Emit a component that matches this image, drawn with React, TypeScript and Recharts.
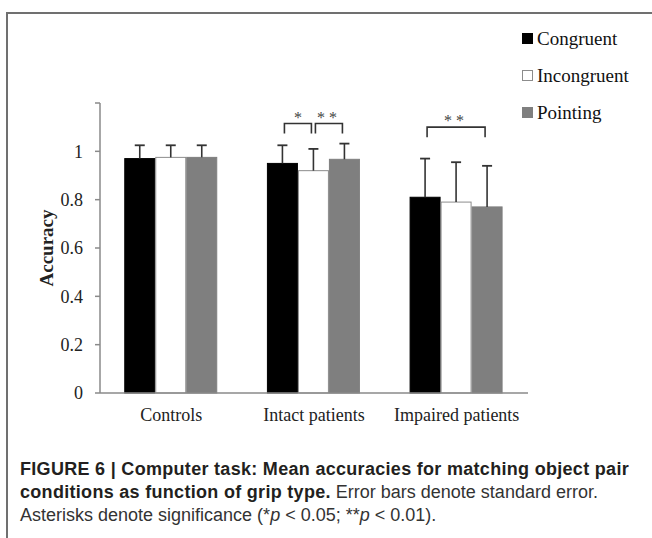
import React from 'react';
import { BarChart, Bar, XAxis, YAxis, Legend } from 'recharts';

// the figure fills the page edge to edge
if (typeof document !== 'undefined') {
  document.body.style.margin = '0';
}

const categories = ['Controls', 'Intact patients', 'Impaired patients'];
const congruent = [0.97, 0.95, 0.81];
const incongruent = [0.975, 0.92, 0.79];
const pointing = [0.975, 0.967, 0.77];
const congruentErr = [0.055, 0.075, 0.16];
const incongruentErr = [0.05, 0.09, 0.165];
const pointingErr = [0.05, 0.065, 0.17];
const yTicks = [0, 0.2, 0.4, 0.6, 0.8, 1, 1.2];

// significance brackets between two conditions of one group
const brackets = [
  { category: 'Intact patients', from: 'congruent', to: 'incongruent', stars: '*', level: 1.115 },
  { category: 'Intact patients', from: 'incongruent', to: 'pointing', stars: '**', level: 1.115 },
  { category: 'Impaired patients', from: 'congruent', to: 'pointing', stars: '**', level: 1.1 },
];

const seriesKeys = ['congruent', 'incongruent', 'pointing'];
const seriesNames: Record<string, string> = {
  congruent: 'Congruent',
  incongruent: 'Incongruent',
  pointing: 'Pointing',
};
const seriesStyle: Record<string, { fill: string; stroke: string }> = {
  congruent: { fill: '#000000', stroke: '#000000' },
  incongruent: { fill: '#ffffff', stroke: '#8c8c8c' },
  pointing: { fill: '#7f7f7f', stroke: '#7f7f7f' },
};

const data = categories.map((category, i) => ({
  category,
  congruent: congruent[i],
  incongruent: incongruent[i],
  pointing: pointing[i],
  congruentErr: congruentErr[i],
  incongruentErr: incongruentErr[i],
  pointingErr: pointingErr[i],
}));

const SERIF = '"Liberation Serif", "Times New Roman", serif';
const SANS = '"Liberation Sans", Arial, sans-serif';
const MARK = '#333333';
const FRAME = '#707070';

// bar with a one-sided (upward) error bar and any brackets starting at it
const renderBar = (key: string) => (props: any) => {
  const { x, y, width, height, payload } = props;
  const value = payload[key];
  const unit = value ? height / value : 0;
  const base = y + height;
  const cx = x + width / 2;
  const errTop = y - payload[`${key}Err`] * unit;
  const style = seriesStyle[key];
  const fromIdx = seriesKeys.indexOf(key);
  const marks = brackets.filter((b) => b.category === payload.category && b.from === key);

  return (
    <g>
      <rect
        x={x + 0.5}
        y={y}
        width={width - 1}
        height={height}
        fill={style.fill}
        stroke={style.stroke}
        strokeWidth={1}
      />
      <line x1={cx} x2={cx} y1={y} y2={errTop} stroke={MARK} strokeWidth={1.6} />
      <line x1={cx - 5} x2={cx + 5} y1={errTop} y2={errTop} stroke={MARK} strokeWidth={1.8} />
      {marks.map((b) => {
        const toIdx = seriesKeys.indexOf(b.to);
        const x1 = cx + 2;
        const x2 = cx + (toIdx - fromIdx) * width - 2;
        const top = base - b.level * unit;
        return (
          <g key={`${b.from}-${b.to}`}>
            <path
              d={`M${x1},${top + 10} L${x1},${top} L${x2},${top} L${x2},${top + 10}`}
              fill="none"
              stroke={MARK}
              strokeWidth={1.6}
            />
            <text
              x={(x1 + x2) / 2}
              y={top - 1}
              textAnchor="middle"
              fontFamily={SERIF}
              fontSize={16}
              letterSpacing={b.stars.length > 1 ? 4 : 0}
              fill="#444"
            >
              {b.stars}
            </text>
          </g>
        );
      })}
    </g>
  );
};

const renderLegend = (props: any) => {
  const { payload } = props;
  return (
    <div>
      {payload.map((entry: any) => {
        const style = seriesStyle[entry.dataKey];
        return (
          <div
            key={entry.dataKey}
            style={{
              display: 'flex',
              alignItems: 'center',
              height: 37,
              fontFamily: SERIF,
              fontSize: 19,
              color: '#111',
            }}
          >
            <span
              style={{
                display: 'inline-block',
                width: 9,
                height: 9,
                marginRight: 4,
                background: style.fill,
                border: `1px solid ${style.stroke}`,
              }}
            />
            {entry.value}
          </div>
        );
      })}
    </div>
  );
};

const renderYLabel = (props: any) => {
  const { viewBox } = props;
  const x = viewBox.x + 6;
  const y = viewBox.y + viewBox.height / 2;
  return (
    <text
      x={x}
      y={y}
      transform={`rotate(-90, ${x}, ${y})`}
      textAnchor="middle"
      dominantBaseline="central"
      fontFamily={SERIF}
      fontWeight="bold"
      fontSize={19}
      fill="#222"
    >
      Accuracy
    </text>
  );
};

export default function App() {
  return (
    <div
      style={{
        position: 'relative',
        width: 652,
        height: 538,
        background: '#fff',
        overflow: 'hidden',
      }}
    >
      {/* figure frame: top and left edges */}
      <div style={{ position: 'absolute', left: 6, top: 12, width: 646, height: 2, background: FRAME }} />
      <div style={{ position: 'absolute', left: 6, top: 12, width: 2, height: 526, background: FRAME }} />
      <div style={{ position: 'absolute', left: 0, top: 0 }}>
        <BarChart
          width={652}
          height={440}
          data={data}
          margin={{ top: 103, right: 124, bottom: 0, left: 40 }}
          barCategoryGap="17%"
          barGap={0}
        >
          <XAxis
            dataKey="category"
            height={47}
            tickLine={false}
            tickSize={0}
            tickMargin={15}
            axisLine={{ stroke: '#8a8a8a', strokeWidth: 1.5 }}
            tick={{ fontFamily: SERIF, fontSize: 18, fill: '#222' }}
          />
          <YAxis
            width={60}
            domain={[0, 1.2]}
            ticks={yTicks}
            interval={0}
            tickFormatter={(v: number) => (v > 1 ? '' : String(v))}
            tickSize={5}
            tickMargin={12}
            axisLine={{ stroke: '#8a8a8a', strokeWidth: 1.5 }}
            tickLine={{ stroke: '#8a8a8a', strokeWidth: 1.5 }}
            tick={{ fontFamily: SERIF, fontSize: 18, fill: '#222' }}
            label={renderYLabel}
          />
          <Legend
            layout="vertical"
            align="center"
            verticalAlign="middle"
            content={renderLegend}
            wrapperStyle={{ top: 20, left: 522, width: 130 }}
          />
          {seriesKeys.map((key) => (
            <Bar
              key={key}
              dataKey={key}
              name={seriesNames[key]}
              fill={seriesStyle[key].fill}
              shape={renderBar(key)}
              isAnimationActive={false}
            />
          ))}
        </BarChart>
      </div>
      <div
        style={{
          position: 'absolute',
          left: 20,
          top: 458,
          width: 632,
          fontFamily: SANS,
          fontSize: 18,
          lineHeight: '23px',
          color: '#333',
          whiteSpace: 'nowrap',
        }}
      >
        <div>
          <b style={{ color: '#231f20', letterSpacing: 0.3 }}>
            FIGURE 6 | Computer task: Mean accuracies for matching object pair
          </b>
        </div>
        <div>
          <b style={{ color: '#231f20', letterSpacing: 0.3 }}>conditions as function of grip type.</b> Error bars
          denote standard error.
        </div>
        <div>
          Asterisks denote significance (*<i>p</i> &lt; 0.05; **<i>p</i> &lt; 0.01).
        </div>
      </div>
    </div>
  );
}
